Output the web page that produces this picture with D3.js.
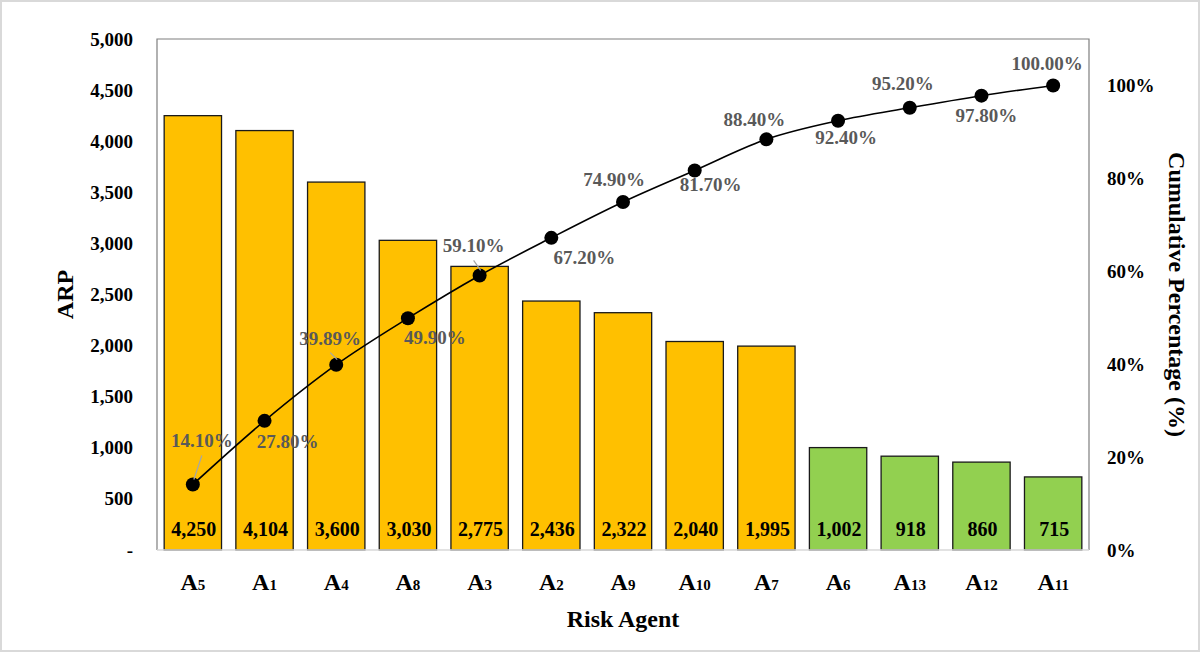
<!DOCTYPE html>
<html>
<head>
<meta charset="utf-8">
<script src="https://cdn.jsdelivr.net/npm/d3@7"></script>
<style>
	body { margin: 0; background: #fff; }
	svg { display: block; font-family: "Liberation Serif", "Times New Roman", serif; font-weight: bold; }
</style>
</head>
<body>
<svg id="chart" width="1200" height="652"></svg>
<script>

// Risk agents, sorted by ARP (descending)
const agents = ["5", "1", "4", "8", "3", "2", "9", "10", "7", "6", "13", "12", "11"];
const arp = [4250, 4104, 3600, 3030, 2775, 2436, 2322, 2040, 1995, 1002, 918, 860, 715];
const cumulative = [14.10, 27.80, 39.89, 49.90, 59.10, 67.20, 74.90, 81.70, 88.40, 92.40, 95.20, 97.80, 100.00];
const priority = ["high", "high", "high", "high", "high", "high", "high", "high", "high",
                  "low", "low", "low", "low"];
const arpTicks = [0, 500, 1000, 1500, 2000, 2500, 3000, 3500, 4000, 4500, 5000];
const pctTicks = [0, 0.2, 0.4, 0.6, 0.8, 1.0];

// Where each percentage label sits relative to its point (dx, dy, leader line)
const labelPlacement = [
	[9, -37, true], [23, 27, false], [-6, -20, true], [27, 26, false],
	[-6, -23, true], [33, 26, false], [-9, -16, false], [16, 21, false],
	[-12, -13, false], [8, 23, false], [-7, -18, false], [5, 26, false],
	[-6, -15, false]
];

const svg = d3.select("#chart");
const plotLeft = 157, plotRight = 1089, plotTop = 39, plotBottom = 550;

// Outer chart frame
svg.append("rect")
	.attr("x", 1).attr("y", 1)
	.attr("width", 1198).attr("height", 650)
	.attr("fill", "#fff")
	.attr("stroke", "#d9d9d9")
	.attr("stroke-width", 2);

const x = d3.scaleBand()
	.domain(agents)
	.range([plotLeft, plotRight])
	.paddingInner(0.2)
	.paddingOuter(0.1);

const y = d3.scaleLinear().domain([0, 5000]).range([plotBottom, plotTop]);
const yPct = d3.scaleLinear().domain([0, 1.1]).range([plotBottom, plotTop]);

const rows = agents.map((a, i) => ({
	agent: a, arp: arp[i], cum: cumulative[i] / 100, priority: priority[i],
	place: labelPlacement[i]
}));

// Plot area border (left, top, right)
svg.append("path")
	.attr("d", `M${plotLeft},${plotBottom}V${plotTop}H${plotRight}V${plotBottom}`)
	.attr("fill", "none")
	.attr("stroke", "#7f7f7f")
	.attr("stroke-width", 1.2);

// Bars
svg.append("g")
	.selectAll("rect")
	.data(rows)
	.join("rect")
		.attr("x", d => x(d.agent))
		.attr("y", d => y(d.arp))
		.attr("width", x.bandwidth())
		.attr("height", d => plotBottom - y(d.arp))
		.attr("fill", d => d.priority == "high" ? "#ffc000" : "#92d050")
		.attr("stroke", "#1a1a1a")
		.attr("stroke-width", 1.3);

// Category axis line
svg.append("line")
	.attr("x1", plotLeft).attr("x2", plotRight)
	.attr("y1", plotBottom).attr("y2", plotBottom)
	.attr("stroke", "#d9d9d9")
	.attr("stroke-width", 1.5);

// Bar values near the base
svg.append("g")
	.selectAll("text")
	.data(rows)
	.join("text")
		.attr("x", d => x(d.agent) + x.bandwidth() / 2 + 1)
		.attr("y", 536)
		.attr("text-anchor", "middle")
		.attr("font-size", 20)
		.attr("fill", "#000")
		.text(d => d3.format(",")(d.arp));

// Left axis
const yAxis = svg.append("g")
	.attr("transform", `translate(${plotLeft},0)`)
	.call(d3.axisLeft(y)
		.tickValues(arpTicks)
		.tickSize(0)
		.tickPadding(24)
		.tickFormat(d => d == 0 ? "-" : d3.format(",")(d)));
yAxis.select(".domain").remove();
yAxis.selectAll("text")
	.attr("font-family", "Liberation Serif, serif")
	.attr("font-size", 19)
	.attr("font-weight", "bold")
	.attr("fill", "#000");

// Right axis
const pAxis = svg.append("g")
	.attr("transform", `translate(${plotRight},0)`)
	.call(d3.axisRight(yPct)
		.tickValues(pctTicks)
		.tickSize(0)
		.tickPadding(18)
		.tickFormat(d3.format(".0%")));
pAxis.select(".domain").remove();
pAxis.selectAll("text")
	.attr("font-family", "Liberation Serif, serif")
	.attr("font-size", 19)
	.attr("font-weight", "bold")
	.attr("fill", "#000");

// Category labels: A with small index digits
const cat = svg.append("g")
	.selectAll("text")
	.data(rows)
	.join("text")
		.attr("x", d => x(d.agent) + x.bandwidth() / 2)
		.attr("y", 590)
		.attr("text-anchor", "middle")
		.attr("fill", "#000");
cat.append("tspan").attr("font-size", 24).text("A");
cat.append("tspan").attr("font-size", 15).text(d => d.agent);

// Cumulative line and markers
const cx = d => x(d.agent) + x.bandwidth() / 2;
svg.append("path")
	.datum(rows)
	.attr("fill", "none")
	.attr("stroke", "#000")
	.attr("stroke-width", 1.6)
	.attr("d", d3.line().x(cx).y(d => yPct(d.cum)).curve(d3.curveMonotoneX));

svg.append("g")
	.selectAll("circle")
	.data(rows)
	.join("circle")
		.attr("cx", cx)
		.attr("cy", d => yPct(d.cum))
		.attr("r", 7)
		.attr("fill", "#000");

// Leader lines for the labels pulled away from their points
svg.append("g")
	.selectAll("line")
	.data(rows.filter(d => d.place[2]))
	.join("line")
		.attr("x1", d => cx(d) + d.place[0])
		.attr("y1", d => yPct(d.cum) + d.place[1] + 8)
		.attr("x2", d => cx(d) + 1)
		.attr("y2", d => yPct(d.cum) - 5)
		.attr("stroke", "#a6a6a6")
		.attr("stroke-width", 1.2);

// Percentage labels
svg.append("g")
	.selectAll("text")
	.data(rows)
	.join("text")
		.attr("x", d => cx(d) + d.place[0])
		.attr("y", d => yPct(d.cum) + d.place[1])
		.attr("text-anchor", "middle")
		.attr("font-size", 19)
		.attr("fill", "#595959")
		.text(d => d3.format(".2f")(d.cum * 100) + "%");

// Axis titles
svg.append("text")
	.attr("transform", `translate(73,${(plotTop + plotBottom) / 2}) rotate(-90)`)
	.attr("text-anchor", "middle")
	.attr("font-size", 24)
	.text("ARP");

svg.append("text")
	.attr("x", (plotLeft + plotRight) / 2)
	.attr("y", 627)
	.attr("text-anchor", "middle")
	.attr("font-size", 24)
	.text("Risk Agent");

svg.append("text")
	.attr("transform", `translate(1169,${(plotTop + plotBottom) / 2}) rotate(90)`)
	.attr("text-anchor", "middle")
	.attr("font-size", 24)
	.text("Cumulative Percentage (%)");

</script>
</body>
</html>
